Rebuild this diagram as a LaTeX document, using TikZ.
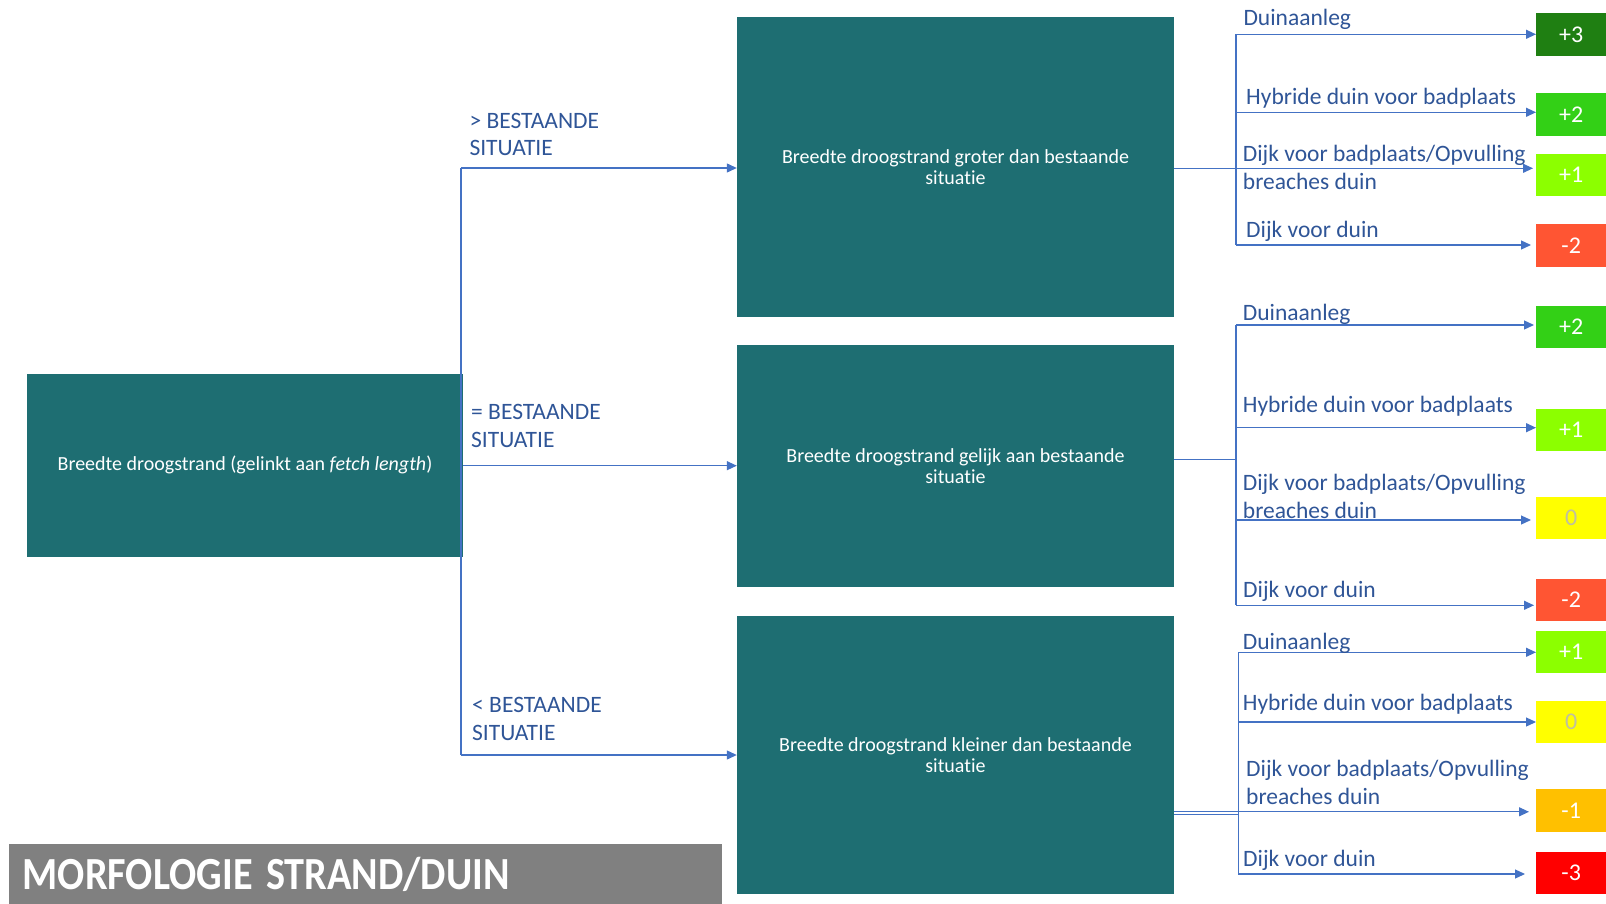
\documentclass[tikz,border=0pt]{standalone}
\usepackage{fontspec}
\usepackage{graphicx}
\setmainfont{Carlito}[Ligatures={NoCommon}]
\usetikzlibrary{arrows.meta}
\definecolor{tealbox}{HTML}{1E6E72}
\definecolor{lineblue}{HTML}{4472C4}
\definecolor{txtblue}{HTML}{2F5597}
\definecolor{titlegray}{HTML}{808080}
\definecolor{sp3}{HTML}{1F7F12}
\definecolor{sp2}{HTML}{33D016}
\definecolor{sp1}{HTML}{8CFF00}
\definecolor{szero}{HTML}{FFFF00}
\definecolor{szerotxt}{HTML}{C0C0A0}
\definecolor{sm1}{HTML}{FFC000}
\definecolor{sm2}{HTML}{FF5533}
\definecolor{sm3}{HTML}{FF0000}
\begin{document}
\begin{tikzpicture}[x=1pt,y=-1pt,
  box/.style={fill=tealbox, draw=none, text=white, font=\fontsize{20}{21.5}\selectfont, align=center, inner sep=0pt},
  score/.style={anchor=north west, minimum width=70pt, text=white, font=\fontsize{24}{27}\selectfont, inner sep=0pt},
  conn/.style={draw=lineblue, line width=1.2pt, -{Triangle[length=10pt,width=9pt]}},
  wire/.style={draw=lineblue, line width=1.2pt},
  lbl/.style={text=txtblue, font=\fontsize{23.5}{27.6}\selectfont, inner sep=0pt, anchor=base west, align=left}]
\useasboundingbox (0,0) rectangle (1606,904);

% main boxes
\node[box, minimum width=436pt, minimum height=183pt] (L) at (245,465) {Breedte droogstrand (gelinkt aan \textit{fetch length})};
\node[box, minimum width=437pt, minimum height=299pt] (B1) at (955.5,167) {Breedte droogstrand groter dan bestaande\\situatie};
\node[box, minimum width=437pt, minimum height=242pt] (B2) at (955.5,466) {Breedte droogstrand gelijk aan bestaande\\situatie};
\node[box, minimum width=437pt, minimum height=278.5pt] (B3) at (955.5,755) {Breedte droogstrand kleiner dan bestaande\\situatie};

% title
\node[fill=titlegray, anchor=north west, minimum height=60pt, text width=686pt, inner xsep=13.5pt, inner ysep=0pt, align=left, text=white, font=\bfseries\fontsize{46}{48}\selectfont] (title) at (9,844) {\raisebox{-1pt}{\scalebox{0.875}[1]{MORFOLOGIE STRAND/DUIN}}};

% left branching
\coordinate (T1) at (461,168);
\coordinate (T3) at (461,755);
\draw[wire] (T1) -- (T3);
\draw[conn] (T1) -- (B1.west |- T1);
\draw[conn] (L.east |- 0,465.7) -- (B2.west |- 0,465.7);
\draw[conn] (T3) -- (B3.west |- T3);
\node[lbl] (la1) at (469.3,155.7) {> BESTAANDE\\SITUATIE};
\node[lbl] (la2) at (471,447.3) {= BESTAANDE\\SITUATIE};
\node[lbl] (la3) at (472,740) {< BESTAANDE\\SITUATIE};

% score boxes group 1
\node[score, fill=sp3, minimum height=42.4pt] (s11) at (1536,13.3) {+3};
\node[score, fill=sp2, minimum height=42.4pt] (s12) at (1536,93.3) {+2};
\node[score, fill=sp1, minimum height=42.4pt] (s13) at (1536,153.7) {+1};
\node[score, fill=sm2, minimum height=42.4pt] (s14) at (1536,224) {-2};
% group 2
\node[score, fill=sp2, minimum height=42.4pt] (s21) at (1536,305.7) {+2};
\node[score, fill=sp1, minimum height=42.4pt] (s22) at (1536,408.3) {+1};
\node[score, fill=szero, text=szerotxt, minimum height=42.4pt] (s23) at (1536,496.7) {0};
\node[score, fill=sm2, minimum height=42.4pt] (s24) at (1536,578.5) {-2};
% group 3
\node[score, fill=sp1, minimum height=42.4pt] (s31) at (1536,630.5) {+1};
\node[score, fill=szero, text=szerotxt, minimum height=42.4pt] (s32) at (1536,700.7) {0};
\node[score, fill=sm1, minimum height=42.4pt] (s33) at (1536,789) {-1};
\node[score, fill=sm3, minimum height=42.4pt] (s34) at (1536,851.7) {-3};

% group 1 connectors
\coordinate (J1t) at (1236,34.3);
\coordinate (J1b) at (1236,245);
\draw[wire] (J1t) -- (J1b);
\draw[conn] (B1.east |- 0,168.3) -- (1533,168.3) coordinate (e13);
\draw[conn] (J1t) -- (s11.west |- J1t);
\draw[conn] (1236,112.3) -- (s12.west |- 0,112.3);
\draw[conn] (J1b) -- ([xshift=-5pt]s14.west |- J1b);
\node[lbl] (l11) at (1243.3,26) {Duinaanleg};
\node[lbl] (l12) at (1246,104.3) {Hybride duin voor badplaats};
\node[lbl] (l13) at (1242.7,189.3) {Dijk voor badplaats/Opvulling\\breaches duin};
\node[lbl] (l14) at (1246,237.3) {Dijk voor duin};

% group 2 connectors
\coordinate (J2) at (1236,459.3);
\coordinate (J2t) at (1236,325);
\coordinate (J2b) at (1236,605.3);
\draw[wire] (B2.east |- J2) -- (J2);
\draw[wire] (J2t) -- (J2b);
\draw[conn] (J2t) -- ([xshift=-2pt]s21.west |- J2t);
\draw[conn] (1236,427.7) -- (s22.west |- 0,427.7);
\draw[conn] (1236,520) -- ([xshift=-5pt]s23.west |- 0,520);
\draw[conn] (J2b) -- ([xshift=-2pt]s24.west |- J2b);
\node[lbl] (l21) at (1242.7,320.7) {Duinaanleg};
\node[lbl] (l22) at (1242.7,412.7) {Hybride duin voor badplaats};
\node[lbl] (l23) at (1242.7,518) {Dijk voor badplaats/Opvulling\\breaches duin};
\node[lbl] (l24) at (1243,597.3) {Dijk voor duin};

% group 3 connectors
\coordinate (J3t) at (1238.3,652.3);
\coordinate (J3b) at (1238.3,874);
\draw[wire] (J3t) -- (J3b);
\draw[wire] (B3.east |- 0,814.8) -- (1238.3,814.8);
\draw[conn] (B3.east |- 0,811.8) -- ([xshift=-7pt]s33.west |- 0,811.8);
\draw[conn] (J3t) -- (s31.west |- J3t);
\draw[conn] (1238.3,722) -- (s32.west |- 0,722);
\draw[conn] (J3b) -- ([xshift=-11pt]s34.west |- J3b);
\node[lbl] (l31) at (1242.7,649.3) {Duinaanleg};
\node[lbl] (l32) at (1242.7,710.7) {Hybride duin voor badplaats};
\node[lbl] (l33) at (1246,804) {Dijk voor badplaats/Opvulling\\breaches duin};
\node[lbl] (l34) at (1243,866) {Dijk voor duin};
\end{tikzpicture}
\end{document}
